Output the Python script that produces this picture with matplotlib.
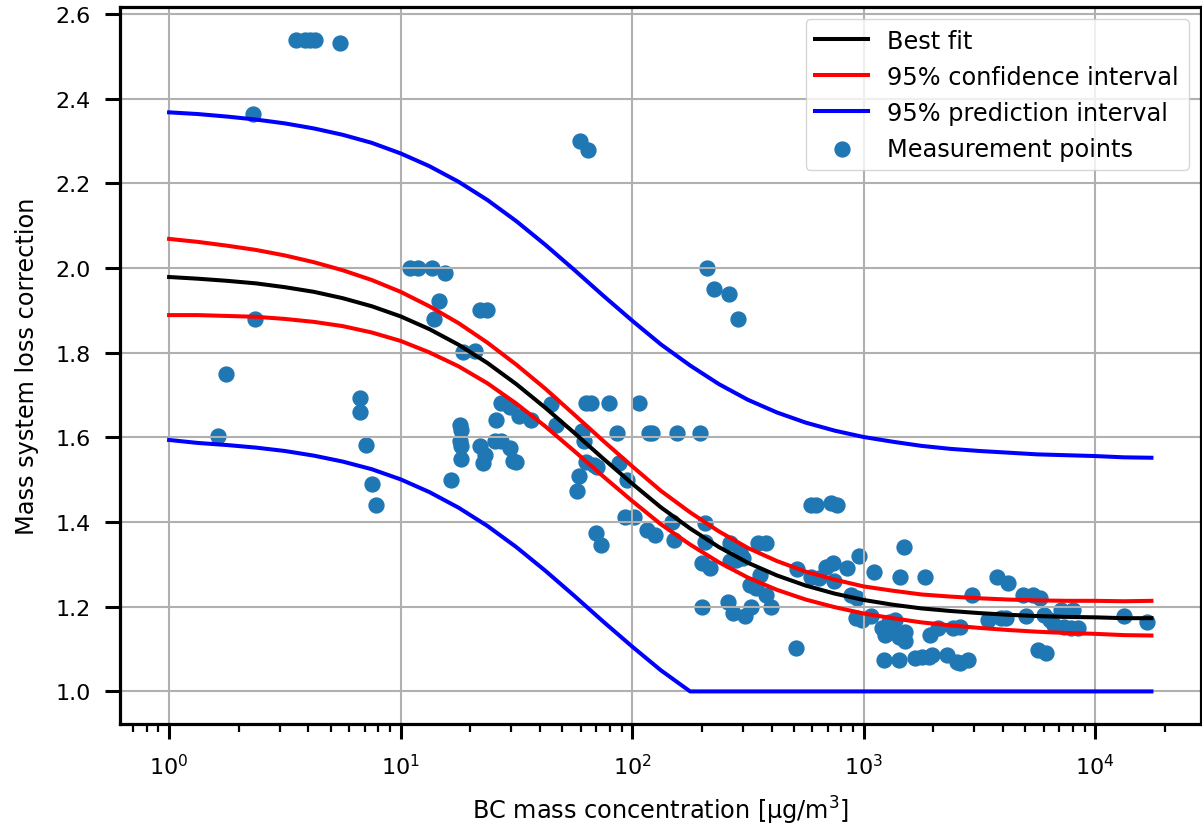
import numpy as np
import matplotlib
matplotlib.use("Agg")
import matplotlib.pyplot as plt

fit_x = [1, 1.33, 1.78, 2.37, 3.16, 4.22, 5.62, 7.50, 10, 13.3, 17.8, 23.7,
         31.6, 42.2, 56.2, 75.0, 100, 133, 178, 237, 316, 422, 562, 750,
         1000, 1330, 1780, 2370, 3160, 4220, 5620, 7500, 10000, 13300, 17500]
best_fit = [1.979, 1.975, 1.970, 1.964, 1.955, 1.944, 1.929, 1.910, 1.886,
            1.856, 1.819, 1.776, 1.726, 1.670, 1.611, 1.550, 1.491, 1.435,
            1.385, 1.341, 1.304, 1.274, 1.250, 1.231, 1.216, 1.205, 1.196,
            1.190, 1.185, 1.181, 1.178, 1.176, 1.175, 1.173, 1.173]
ci_upper = [2.069, 2.062, 2.053, 2.043, 2.030, 2.014, 1.995, 1.972, 1.944,
            1.910, 1.870, 1.824, 1.772, 1.715, 1.654, 1.592, 1.532, 1.474,
            1.423, 1.378, 1.339, 1.308, 1.283, 1.264, 1.248, 1.238, 1.229,
            1.224, 1.220, 1.217, 1.215, 1.214, 1.214, 1.213, 1.214]
ci_lower = [1.889, 1.889, 1.887, 1.885, 1.880, 1.873, 1.863, 1.848, 1.828,
            1.801, 1.768, 1.728, 1.680, 1.626, 1.568, 1.508, 1.450, 1.395,
            1.347, 1.305, 1.269, 1.240, 1.217, 1.199, 1.184, 1.173, 1.163,
            1.156, 1.150, 1.145, 1.141, 1.138, 1.136, 1.133, 1.132]
pi_upper = [2.368, 2.364, 2.358, 2.351, 2.342, 2.330, 2.315, 2.296, 2.271,
            2.241, 2.204, 2.161, 2.111, 2.055, 1.996, 1.935, 1.876, 1.820,
            1.770, 1.726, 1.689, 1.659, 1.635, 1.616, 1.601, 1.590, 1.580,
            1.573, 1.568, 1.564, 1.560, 1.558, 1.556, 1.553, 1.552]
pi_lower = [1.594, 1.587, 1.582, 1.576, 1.568, 1.557, 1.543, 1.525, 1.501,
            1.471, 1.434, 1.391, 1.341, 1.285, 1.226, 1.165, 1.106, 1.050,
            1.000, 1.000, 1.000, 1.000, 1.000, 1.000, 1.000, 1.000, 1.000,
            1.000, 1.000, 1.000, 1.000, 1.000, 1.000, 1.000, 1.000]

# measurement points
meas_x = [1.62, 1.77, 2.30, 2.36, 3.55, 3.85, 4.05, 4.25, 5.47,
          6.65, 6.65, 7.1, 7.5, 7.84,
          11.0, 11.9, 13.6, 15.6, 14.6, 13.9, 16.5,
          18.0, 18.2, 18.0, 18.3, 18.3, 18.6, 20.9, 22.0, 23.5,
          22.0, 23.1, 22.7, 25.9, 25.5, 27.2, 27.2, 29.6,
          29.6, 30.5, 31.5, 32.6, 36.6, 44.6, 46.9,
          59, 58, 61, 62, 63, 68.4, 70.8,
          63, 66.4, 79.4, 106.7, 86.3, 118, 122, 156, 196,
          87.7, 95.2, 93.6, 101.7, 69.6, 73.1,
          116, 126, 148.5, 151, 206, 206, 200, 217,
          264, 292, 350, 380, 264, 282, 302,
          322, 344, 380, 355, 200, 260, 273, 306, 327, 399,
          515, 510, 593, 622, 722, 771,
          593, 643, 687, 734, 746, 851, 955, 1107,
          1489, 1442, 1845, 880, 939, 925, 986, 1072,
          1202, 1242, 1327, 1418, 1515, 1515, 1285, 1372,
          1940, 2105, 2443, 2608, 1222, 1418,
          1671, 1786, 1906, 1971, 2286, 2525, 2608, 2832,
          2927, 3750, 4207, 4875, 5383, 5750,
          3451, 3939, 4138, 5043, 6039, 6350, 7129, 7998,
          6668, 7362, 7870, 8401, 5655, 6142, 13300, 16760,
          59.6, 64.4, 210, 226.6, 261, 286]
meas_y = [1.603, 1.750, 2.364, 1.879, 2.540, 2.540, 2.540, 2.540, 2.532,
          1.692, 1.660, 1.581, 1.490, 1.441,
          2.001, 2.001, 2.001, 1.989, 1.923, 1.879, 1.500,
          1.630, 1.618, 1.591, 1.579, 1.548, 1.802, 1.805, 1.901, 1.901,
          1.579, 1.559, 1.540, 1.642, 1.591, 1.591, 1.682, 1.672,
          1.575, 1.545, 1.543, 1.650, 1.642, 1.678, 1.630,
          1.508, 1.473, 1.615, 1.591, 1.543, 1.536, 1.531,
          1.682, 1.682, 1.682, 1.682, 1.611, 1.611, 1.611, 1.611, 1.611,
          1.540, 1.500, 1.413, 1.413, 1.374, 1.346,
          1.382, 1.370, 1.401, 1.358, 1.398, 1.354, 1.303, 1.291,
          1.350, 1.331, 1.350, 1.350, 1.307, 1.311, 1.315,
          1.252, 1.244, 1.228, 1.275, 1.200, 1.212, 1.185, 1.177, 1.200, 1.200,
          1.290, 1.102, 1.441, 1.441, 1.445, 1.441,
          1.271, 1.267, 1.295, 1.303, 1.260, 1.291, 1.319, 1.283,
          1.342, 1.271, 1.271, 1.228, 1.220, 1.173, 1.169, 1.177,
          1.149, 1.133, 1.141, 1.129, 1.141, 1.118, 1.165, 1.169,
          1.133, 1.149, 1.149, 1.153, 1.074, 1.074,
          1.078, 1.082, 1.082, 1.086, 1.086, 1.070, 1.066, 1.074,
          1.228, 1.271, 1.256, 1.228, 1.228, 1.220,
          1.169, 1.173, 1.173, 1.177, 1.181, 1.169, 1.192, 1.192,
          1.157, 1.153, 1.149, 1.149, 1.098, 1.090, 1.177, 1.165,
          2.301, 2.279, 2.001, 1.950, 1.940, 1.880]

plt.rcParams['font.family'] = 'DejaVu Sans'

fig = plt.figure(figsize=(12.02, 8.28), dpi=100)
ax = fig.add_axes([0.0998, 0.1244, 0.899, 0.866])

ax.semilogx(fit_x, best_fit, color='black', lw=2.9, label='Best fit')
ax.semilogx(fit_x, ci_upper, color='red', lw=2.9, label='95% confidence interval')
ax.semilogx(fit_x, ci_lower, color='red', lw=2.9)
ax.semilogx(fit_x, pi_upper, color='blue', lw=2.9, label='95% prediction interval')
ax.semilogx(fit_x, pi_lower, color='blue', lw=2.9)
ax.scatter(meas_x, meas_y, s=115, color='#1f77b4', label='Measurement points')

ax.set_yticks([1.0, 1.2, 1.4, 1.6, 1.8, 2.0, 2.2, 2.4, 2.6])
ax.set_xlabel('BC mass concentration [µg/m$^3$]', fontsize=17.3, labelpad=11)
ax.set_ylabel('Mass system loss correction', fontsize=17.3, labelpad=12)

ax.grid(True, which='major', color='#b0b0b0', lw=1.5)
ax.tick_params(which='major', length=10.5, width=2.2, pad=10.5, labelsize=16)
ax.tick_params(which='minor', length=5.8, width=1.6)
for s in ax.spines.values():
    s.set_linewidth(2.3)

ax.legend(loc='upper right', fontsize=17.3, handlelength=2.2)

fig.savefig('out.png', dpi=100)
